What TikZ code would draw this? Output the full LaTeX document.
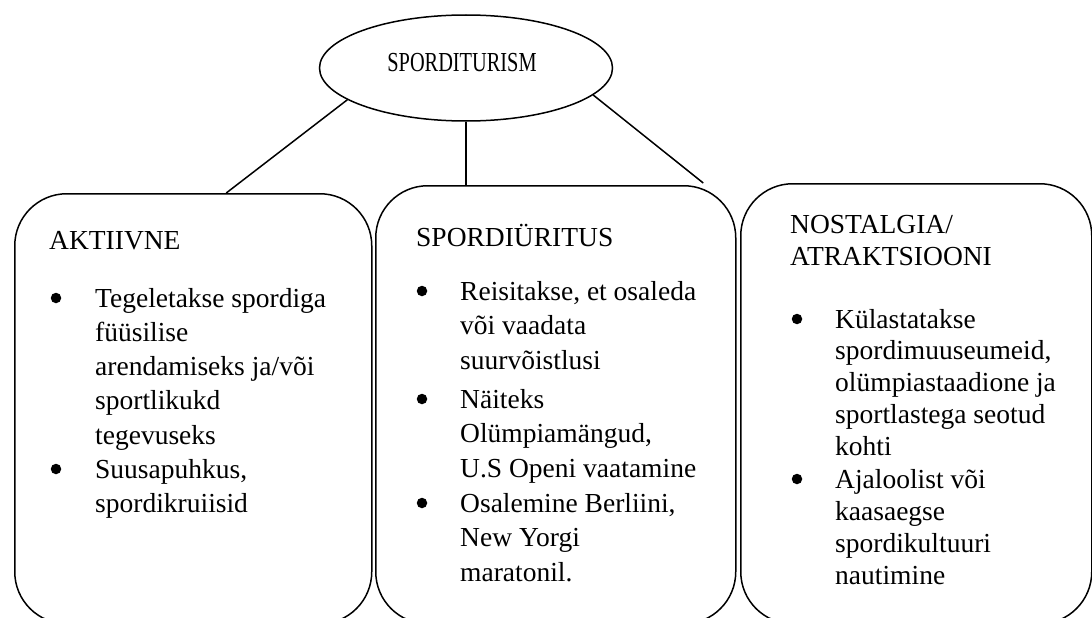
\documentclass[tikz,border=0pt]{standalone}
\usepackage{fontspec}
\setmainfont{Liberation Serif}
\usetikzlibrary{shapes.geometric}

\tikzset{
  outline/.style={draw=black, line width=1.5pt},
  catbox/.style={outline, rounded corners=52pt, anchor=north west, inner sep=0pt},
  txt/.style={anchor=base west, inner sep=0pt, font=\fontsize{27.5}{34}\selectfont},
  dot/.style={circle, fill=black, inner sep=0pt, minimum size=10.5pt},
  link/.style={draw=black, line width=1.5pt}
}
% item text: first line sits on the node's baseline
\newcommand\itemlines[2]{\parbox[t]{300pt}{\fontsize{27.5}{#1}\selectfont\raggedright #2}}

\begin{document}
\begin{tikzpicture}[x=1pt, y=-1pt]
  \useasboundingbox (0,0) rectangle (1092,618);
  \clip (0,0) rectangle (1092,618);

  % root
  \node[outline, ellipse, minimum width=293pt, minimum height=106pt, inner sep=0pt] (root) at (466,68) {};
  \node[txt, anchor=base] (title) at (462,71) {\scalebox{0.74}[1]{SPORDITURISM}};

  % three categories
  \node[catbox, minimum width=357pt, minimum height=430pt] (b1) at (14,193) {};
  \node[catbox, minimum width=360pt, minimum height=438pt] (b2) at (375,185) {};
  \node[catbox, minimum width=351pt, minimum height=440pt] (b3) at (740,183) {};

  % connectors
  \draw[link] (root.195) -- ([xshift=33pt]b1.north);
  \draw[link] (root.south) -- (root.south |- b2.north);
  \draw[link] (root.348) -- ([xshift=-213pt]b3.north);

  % AKTIIVNE
  \node[txt] (h1) at (49,249) {AKTIIVNE};
  \node[dot] (d11) at (56,298) {};
  \node[txt] (i11) at (95,307) {\itemlines{34.25}{Tegeletakse spordiga\\füüsilise\\arendamiseks ja/või\\sportlikukd\\tegevuseks}};
  \node[dot] (d12) at (56,469) {};
  \node[txt] (i12) at (95,478) {\itemlines{34.25}{Suusapuhkus,\\spordikruiisid}};

  % SPORDIÜRITUS
  \node[txt] (h2) at (416,246) {SPORDIÜRITUS};
  \node[dot] (d21) at (422,291) {};
  \node[txt] (i21) at (460,300) {\itemlines{34.5}{Reisitakse, et osaleda\\või vaadata\\suurvõistlusi}};
  \node[dot] (d22) at (422,399) {};
  \node[txt] (i22) at (460,408) {\itemlines{34.5}{Näiteks\\Olümpiamängud,\\U.S Openi vaatamine}};
  \node[dot] (d23) at (422,503) {};
  \node[txt] (i23) at (460,512) {\itemlines{34.5}{Osalemine Berliini,\\New Yorgi\\maratonil.}};

  % NOSTALGIA/ATRAKTSIOONI
  \node[txt] (h3) at (790,233) {\itemlines{32}{NOSTALGIA/\\ATRAKTSIOONI}};
  \node[dot] (d31) at (797,319) {};
  \node[txt] (i31) at (835,328) {\itemlines{31.75}{Külastatakse\\spordimuuseumeid,\\olümpiastaadione ja\\sportlastega seotud\\kohti}};
  \node[dot] (d32) at (797,479) {};
  \node[txt] (i32) at (835,488) {\itemlines{32.3}{Ajaloolist või\\kaasaegse\\spordikultuuri\\nautimine}};
\end{tikzpicture}
\end{document}
